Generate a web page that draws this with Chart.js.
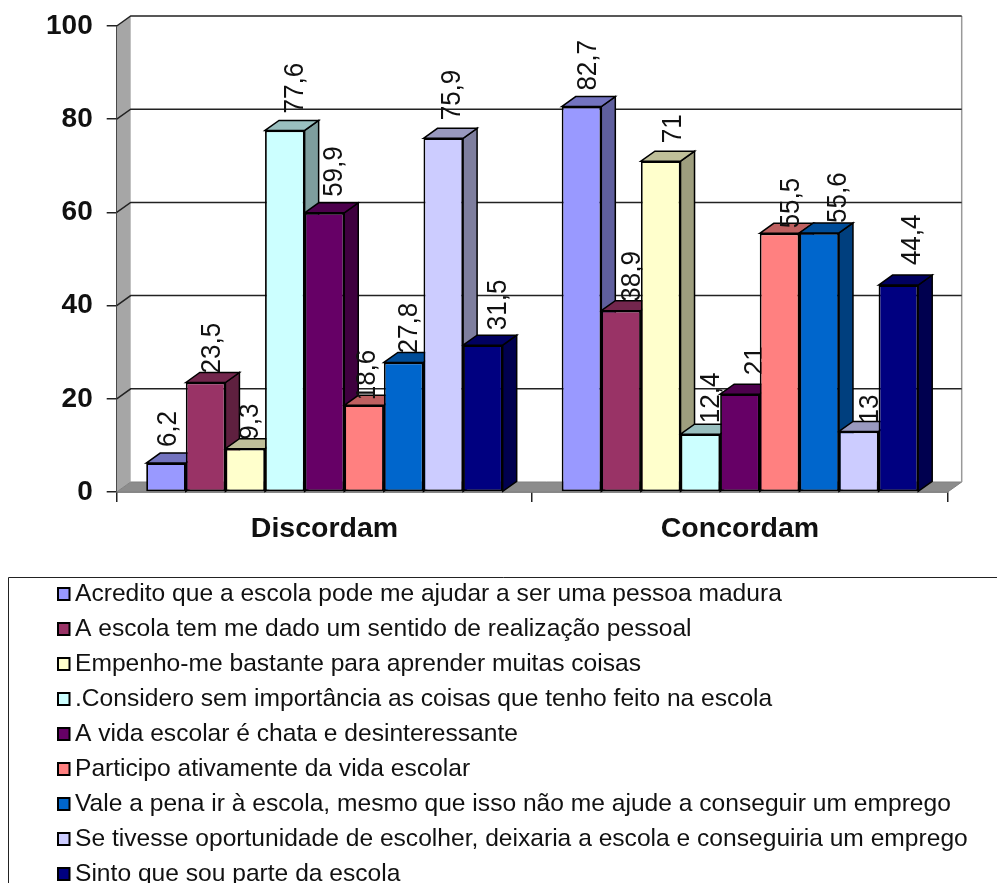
<!DOCTYPE html>
<html>
<head>
<meta charset="utf-8">
<style>html,body{margin:0;padding:0;background:#fff;overflow:hidden}canvas{display:block}</style>
<script src="https://cdn.jsdelivr.net/npm/chart.js@4/dist/chart.umd.min.js"></script>
</head>
<body>
<canvas id="c" width="997" height="883"></canvas>
<script>
const categories = ["Discordam", "Concordam"];
const seriesNames = [
  "Acredito que a escola pode me ajudar a ser uma pessoa madura",
  "A escola tem me dado um sentido de realização pessoal",
  "Empenho-me bastante para aprender muitas coisas",
  ".Considero sem importância as coisas que tenho feito na escola",
  "A vida escolar é chata e desinteressante",
  "Participo ativamente da vida escolar",
  "Vale a pena ir à escola, mesmo que isso não me ajude a conseguir um emprego",
  "Se tivesse oportunidade de escolher, deixaria a escola e conseguiria um emprego",
  "Sinto que sou parte da escola"
];
const discordam = [6.2, 23.5, 9.3, 77.6, 59.9, 18.6, 27.8, 75.9, 31.5];
const concordam = [82.7, 38.9, 71, 12.4, 21, 55.5, 55.6, 13, 44.4];
const colors = ["#9999FF", "#993366", "#FFFFCC", "#CCFFFF", "#660066", "#FF8080", "#0066CC", "#CCCCFF", "#000080"];

const DX = 14, DY = 10, FONT = '"Liberation Sans", Arial, sans-serif', INK = "#111111";

function shade(hex, f) {
  const n = parseInt(hex.slice(1), 16);
  return "rgb(" + [(n >> 16) & 255, (n >> 8) & 255, n & 255].map(v => Math.round(v * f)).join(",") + ")";
}
function poly(ctx, pts, fill, stroke, lw) {
  ctx.beginPath();
  pts.forEach((p, i) => i ? ctx.lineTo(p[0], p[1]) : ctx.moveTo(p[0], p[1]));
  ctx.closePath();
  if (fill) { ctx.fillStyle = fill; ctx.fill(); }
  if (stroke) { ctx.strokeStyle = stroke; ctx.lineWidth = lw || 1; ctx.stroke(); }
}

// Small per-label placement offsets relative to each bar, as the source chart's labels are not evenly placed.
const labelShiftX = [[2.5, 7, 5, 10, 10, 3.5, 6, 9, 15], [7, 11, 13, 11, 15, 12, 19, 11, 14]];
const labelShiftY = [[-6, 1, 1, -7, -6, 5, 1, -8, -5], [-6, 1, -8, -1, -9, 5, 0, 2, -10]];

const walls3d = {
  id: "walls3d",
  beforeDatasetsDraw(chart) {
    const { ctx, chartArea: a, scales: { y } } = chart;
    ctx.save();
    poly(ctx, [[a.left, a.top], [a.left + DX, a.top - DY], [a.left + DX, a.bottom - DY], [a.left, a.bottom]], "#A6A6A6");
    poly(ctx, [[a.left, a.bottom], [a.left + DX, a.bottom - DY], [a.right + DX, a.bottom - DY], [a.right, a.bottom]], "#8C8C8C", "#808080", 1);
    ctx.strokeStyle = "#999999"; ctx.lineWidth = 1.5;
    ctx.beginPath(); ctx.moveTo(a.right + DX, a.top - DY); ctx.lineTo(a.right + DX, a.bottom - DY); ctx.stroke();
    ctx.strokeStyle = "#222"; ctx.lineWidth = 1.5;
    y.ticks.forEach(t => {
      if (t.value === 0) return;
      const py = y.getPixelForValue(t.value);
      ctx.beginPath();
      ctx.moveTo(a.left, py); ctx.lineTo(a.left + DX, py - DY); ctx.lineTo(a.right + DX, py - DY);
      ctx.stroke();
    });
    // side and top faces, left to right; the library then paints the front faces over them
    chart.data.datasets.forEach((ds, i) => {
      const col = colors[i];
      chart.getDatasetMeta(i).data.forEach(b => {
        const l = b.x - b.width / 2, r = b.x + b.width / 2, tp = b.y, bt = b.base;
        poly(ctx, [[r, tp], [r + DX, tp - DY], [r + DX, bt - DY], [r, bt]], shade(col, 0.62), "#000", 1.5);
        poly(ctx, [[l, tp], [l + DX, tp - DY], [r + DX, tp - DY], [r, tp]], shade(col, 0.75), "#000", 1.5);
      });
    });
    // value labels sit behind the front faces, which clip them as in the source
    ctx.font = "26px " + FONT;
    ctx.fillStyle = INK;
    ctx.textAlign = "left";
    ctx.textBaseline = "middle";
    chart.data.datasets.forEach((ds, i) => {
      chart.getDatasetMeta(i).data.forEach((b, j) => {
        ctx.save();
        ctx.translate(b.x + labelShiftX[j][i], b.y - DY + labelShiftY[j][i]);
        ctx.rotate(-Math.PI / 2);
        ctx.scale(1, 1.08);
        ctx.fillText(String(ds.data[j]).replace(".", ","), 0, 0);
        ctx.restore();
      });
    });
    ctx.restore();
  },
  afterDraw(chart) {
    const { ctx } = chart;
    const W = chart.width, H = chart.height;
    ctx.save();
    ctx.strokeStyle = "#222"; ctx.lineWidth = 1;
    ctx.beginPath(); ctx.moveTo(8.5, H + 2); ctx.lineTo(8.5, 577.5); ctx.lineTo(W + 2, 577.5); ctx.stroke();
    ctx.font = "24.6px " + FONT;
    ctx.textAlign = "left"; ctx.textBaseline = "middle";
    chart.data.datasets.forEach((ds, i) => {
      const cy = 594 + i * 35;
      ctx.fillStyle = colors[i];
      ctx.strokeStyle = "#000"; ctx.lineWidth = 2;
      ctx.fillRect(58, cy - 6, 11.5, 12);
      ctx.strokeRect(58, cy - 6, 11.5, 12);
      ctx.fillStyle = INK;
      ctx.fillText(ds.label, 75, cy);
    });
    ctx.restore();
  }
};

new Chart(document.getElementById("c"), {
  type: "bar",
  data: {
    labels: categories,
    datasets: seriesNames.map((name, i) => ({
      label: name,
      data: [discordam[i], concordam[i]],
      backgroundColor: colors[i],
      borderColor: "#000",
      borderWidth: 1.8,
      borderSkipped: false
    }))
  },
  options: {
    responsive: false,
    animation: false,
    devicePixelRatio: 1,
    layout: { padding: { left: 0, top: 26, right: 49.3, bottom: 341 } },
    datasets: { bar: { categoryPercentage: 0.858, barPercentage: 1 } },
    plugins: { legend: { display: false }, tooltip: { enabled: false }, title: { display: false } },
    scales: {
      x: {
        afterFit(s) { s.height = 50; s.paddingLeft = 0; s.paddingRight = 0; },
        grid: { drawOnChartArea: false, color: "#222", tickLength: 10, lineWidth: 1.5 },
        border: { color: "#222", width: 1.5 },
        ticks: { color: INK, padding: 10, font: { family: FONT, size: 28.5, weight: "bold" } }
      },
      y: {
        min: 0, max: 100,
        afterFit(s) { s.width = 116.7; s.paddingTop = 0; s.paddingBottom = 0; },
        grid: { drawOnChartArea: false, color: "#222", tickLength: 10, lineWidth: 1.5 },
        border: { color: "#222", width: 1.5 },
        ticks: { stepSize: 20, color: INK, padding: 14, font: { family: FONT, size: 28, weight: "bold" } }
      }
    }
  },
  plugins: [walls3d]
});
</script>
</body>
</html>
